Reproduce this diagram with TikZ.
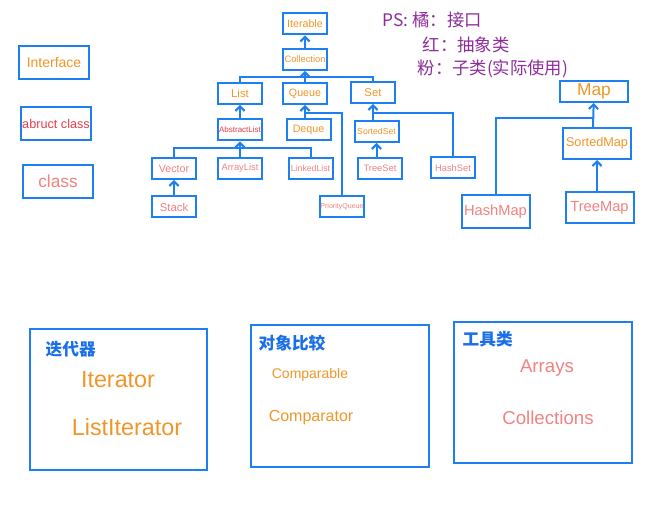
\documentclass[tikz,border=0pt]{standalone}
\usepackage{fontspec}
\setmainfont{Liberation Sans}
\newfontfamily\cjk{Noto Sans CJK SC}
\usetikzlibrary{arrows.meta}

\definecolor{lineblue}{RGB}{30,128,240}
\definecolor{titleblue}{RGB}{26,111,232}
\definecolor{ifaceorange}{RGB}{240,150,40}
\definecolor{absred}{RGB}{230,62,74}
\definecolor{implpink}{RGB}{240,130,130}
\definecolor{notepurple}{RGB}{142,44,156}

\newcommand{\fs}[1]{\fontsize{#1}{#1}\selectfont}

\begin{document}
\begin{tikzpicture}[x=0.75pt, y=-0.75pt,
    box/.style={draw=lineblue, line width=1.5pt, inner sep=0pt, fill=white},
    small/.style={box, minimum width=33pt, minimum height=15.75pt},
    big/.style={box, minimum width=51pt, minimum height=23.25pt},
    legend/.style={box, minimum width=52.5pt, minimum height=24.75pt},
    iface/.style={text=ifaceorange},
    abst/.style={text=absred},
    impl/.style={text=implpink},
    link/.style={draw=lineblue, line width=1.5pt},
    inherit/.style={link, -{Straight Barb[length=3.5pt,width=7pt]}},
    frame/.style={draw=lineblue, line width=1.5pt},
    note/.style={text=notepurple, anchor=west, font=\cjk\fs{13}},
    boxtitle/.style={text=titleblue, anchor=west, font=\cjk\bfseries\fs{12.5}}]
    \useasboundingbox (0,0) rectangle (650,505);

    \node[legend, iface, font=\fs{10.5}] (legiface) at (54,62.5) {Interface};
    \node[legend, abst, font=\fs{9.5}] (legabst) at (56,123.5) {abruct class};
    \node[legend, impl, font=\fs{13}] (legimpl) at (58,181.5) {class};

    \node[small, iface, font=\fs{8}] (iterable) at (305,24) {Iterable};
    \node[small, iface, font=\fs{7}] (collection) at (305,59.5) {Collection};
    \node[small, iface, font=\fs{8.5}] (list) at (240,93.5) {List};
    \node[small, iface, font=\fs{8}] (queue) at (305,93.5) {Queue};
    \node[small, iface, font=\fs{8.5}] (set) at (373,92.5) {Set};
    \node[small, abst, font=\fs{6}] (abslist) at (240,130) {AbstractList};
    \node[small, iface, font=\fs{8}] (deque) at (308.5,130) {Deque};
    \node[small, iface, font=\fs{6.5}] (sortedset) at (376.5,131.5) {SortedSet};
    \node[small, impl, font=\fs{8}] (vector) at (174,168.5) {Vector};
    \node[small, impl, font=\fs{7}] (arraylist) at (240,168.5) {ArrayList};
    \node[small, impl, font=\fs{6.5}] (linkedlist) at (310.5,168.5) {LinkedList};
    \node[small, impl, font=\fs{7}] (treeset) at (380,168.5) {TreeSet};
    \node[small, impl, font=\fs{7}] (hashset) at (453,168) {HashSet};
    \node[small, impl, font=\fs{8.5}] (stack) at (174,207) {Stack};
    \node[small, impl, font=\fs{5.3}] (pqueue) at (342,207) {PriorityQueue};

    \node[big, iface, minimum height=15.75pt, font=\fs{13}] (map) at (594,91.5) {Map};
    \node[big, iface, font=\fs{9.5}] (sortedmap) at (597,143.5) {SortedMap};
    \node[big, impl, font=\fs{11}] (treemap) at (599.5,207.5) {TreeMap};
    \node[big, impl, minimum height=24.75pt, font=\fs{11}] (hashmap) at (495.5,211.5) {HashMap};

    \coordinate (cbus) at (305,77);
    \coordinate (lbus) at (240,148);
    \coordinate (qbus) at (305,113);
    \coordinate (sbus) at (373,113);
    \coordinate (mbus) at (593,118);

    \draw[inherit] (collection) -- (iterable);
    \draw[inherit] (list.north) |- (cbus) -- (collection);
    \draw[link] (queue) -- (cbus);
    \draw[link] (set.north) |- (cbus);
    \draw[inherit] (abslist) -- (list);
    \draw[inherit] (arraylist) -- (abslist);
    \draw[link] (vector.north) |- (lbus);
    \draw[link] (linkedlist.north) |- (lbus);
    \draw[inherit] (stack) -- (vector);
    \draw[inherit] (deque.north -| qbus) -- (queue);
    \draw[link] (pqueue.north) |- (qbus);
    \draw[inherit] (sortedset.north -| sbus) -- (set);
    \draw[link] (hashset.north) |- (sbus);
    \draw[inherit] (treeset.north -| sortedset) -- (sortedset);
    \draw[inherit] (sortedmap.north -| mbus) -- (map);
    \draw[link] (hashmap.north) |- (mbus);
    \draw[inherit] (treemap.north -| sortedmap) -- (sortedmap);

    \node[note] (ps1) at (378,20) {PS: 橘：接口};
    \node[note] (ps2) at (418,45) {红：抽象类};
    \node[note] (ps3) at (413,69) {粉：子类(实际使用)};

    \draw[frame] (30,329) rectangle (207,470);
    \node[boxtitle] (itertitle) at (41,349) {迭代器};
    \node[iface, font=\fs{17.5}] (iterator) at (118,380) {Iterator};
    \node[iface, font=\fs{17.5}] (listiterator) at (127,427) {ListIterator};

    \draw[frame] (251,325) rectangle (429,467);
    \node[boxtitle] (cmptitle) at (254,343) {对象比较};
    \node[iface, font=\fs{10.5}] (comparable) at (310,375) {Comparable};
    \node[iface, font=\fs{12}] (comparator) at (311,418) {Comparator};

    \draw[frame] (454,322) rectangle (632,463);
    \node[boxtitle] (tooltitle) at (458,339) {工具类};
    \node[impl, font=\fs{14}] (arrays) at (547,368) {Arrays};
    \node[impl, font=\fs{14}] (collections) at (548,418) {Collections};
\end{tikzpicture}
\end{document}
